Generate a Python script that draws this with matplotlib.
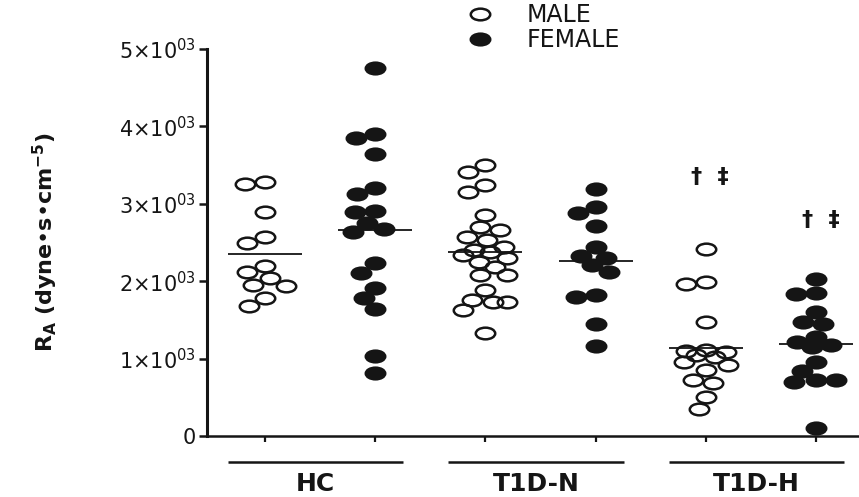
import numpy as np
import matplotlib
matplotlib.use('Agg')
import matplotlib.pyplot as plt
import matplotlib.transforms as mtransforms
from matplotlib.path import Path
from matplotlib.ticker import FuncFormatter, FixedLocator

# R_A values, dyne*s*cm^-5
hc_male = [3256, 3286, 2898, 2490, 2567, 2196, 2037, 2123, 1938, 1951, 1787, 1684]
hc_female = [4751, 3846, 3898, 3640, 3123, 3200, 2890, 2907, 2670, 2640, 2756,
             2231, 2110, 1916, 1779, 1641, 1038, 818]
t1dn_male = [3415, 3501, 3243, 3148, 2855, 2696, 2661, 2567, 2532, 2446, 2403,
             2381, 2296, 2339, 2252, 2187, 2080, 2080, 1886, 1757, 1735, 1735,
             1628, 1327]
t1dn_female = [3191, 2886, 2963, 2713, 2437, 2326, 2296, 2209, 2115, 1800, 1822,
               1443, 1163]
t1dh_male = [2416, 1964, 1986, 1469, 1111, 1090, 1047, 1102, 1020, 917, 960, 853,
             724, 689, 500, 345]
t1dh_female = [2028, 1831, 1843, 1606, 1443, 1477, 1218, 1176, 1283, 1150, 960,
               840, 724, 724, 700, 107]

groups = ['HC', 'T1D-N', 'T1D-H']
columns = [hc_male, hc_female, t1dn_male, t1dn_female, t1dh_male, t1dh_female]
sexes = ['MALE', 'FEMALE']
y_ticks = [0, 1000, 2000, 3000, 4000, 5000]

plt.rcParams['font.family'] = ['DejaVu Sans']
plt.rcParams['mathtext.fontset'] = 'dejavusans'

W, H, DPI = 859, 497, 100
INK = '#151515'

fig = plt.figure(figsize=(W / DPI, H / DPI), dpi=DPI)
ax = fig.add_axes([207 / W, (H - 436) / H, (W - 207) / W, (436 - 49) / H])
ax.set_xlim(0.474, 6.39)
ax.set_ylim(0, 5000)

# Squashed circle used for every point
oval = mtransforms.Affine2D().scale(1.0, 0.6).transform_path(Path.unit_circle())

# Marker footprint in pixels, for spreading points sideways
MW, MH = 22.0, 14.0


def spread(values, pos, max_dx=22, tol=0.9):
    '''Place points of one column side by side where they would collide.'''
    vals = np.asarray(values, dtype=float)
    cx = ax.transData.transform((pos, 0))[0]
    ys = ax.transData.transform(np.column_stack([np.full(len(vals), pos), vals]))[:, 1]
    cands = [0] + [s * d for d in range(1, max_dx + 1) for s in (-1, 1)]
    placed = []
    xs = np.zeros(len(vals))
    for i in np.argsort(-vals, kind='stable'):
        best, best_d = 0, -1.0
        for dx in cands:
            d = min((np.hypot((dx - px) / MW, (ys[i] - py) / MH) for px, py in placed),
                    default=np.inf)
            if d >= tol:
                best = dx
                break
            if d > best_d:
                best, best_d = dx, d
        placed.append((best, ys[i]))
        xs[i] = cx + best
    return ax.transData.inverted().transform(np.column_stack([xs, ys]))[:, 0]


handles = []
for k, vals in enumerate(columns):
    pos = k + 1
    female = k % 2 == 1
    xs = spread(vals, pos)
    h, = ax.plot(xs, vals, linestyle='none', marker=oval, markersize=14,
                 markeredgewidth=1.8, markeredgecolor=INK,
                 markerfacecolor=INK if female else 'none',
                 clip_on=False, zorder=3)
    if k < 2:
        handles.append(h)
    # mean line
    ax.hlines(np.mean(vals), pos - 0.336, pos + 0.336, color=INK, lw=1.3, zorder=2)

# Significance marks over the T1D-H columns
ax.text(5.04, 3350, '\u2020  \u2021', ha='center', va='center', fontsize=16,
        fontweight='bold', color=INK)
ax.text(6.04, 2790, '\u2020  \u2021', ha='center', va='center', fontsize=16,
        fontweight='bold', color=INK)

# Axes styling
for side in ['top', 'right']:
    ax.spines[side].set_visible(False)
ax.spines['left'].set_linewidth(2.2)
ax.spines['bottom'].set_linewidth(1.8)
for sp in ax.spines.values():
    sp.set_color(INK)

ax.xaxis.set_major_locator(FixedLocator(range(1, 7)))
ax.set_xticklabels([])
ax.tick_params(axis='x', direction='out', length=4.5, width=1.6, color=INK)

ax.yaxis.set_major_locator(FixedLocator(y_ticks))
ax.yaxis.set_major_formatter(FuncFormatter(
    lambda v, p: '0' if v == 0 else r'$\mathregular{%d{\times}10^{03}}$' % (v / 1000)))
ax.tick_params(axis='y', direction='out', length=6, width=1.8, pad=2,
               labelsize=15, color=INK, labelcolor=INK)

ax.set_ylabel(r'$\mathbf{R_A\ (dyne•s•cm^{-5})}$', fontsize=16, color=INK)
ax.yaxis.set_label_coords(-0.225, 0.5)

# Group labels with bars under the axis
under = mtransforms.blended_transform_factory(ax.transData, ax.transAxes)
for j, name in enumerate(groups):
    g = 2 * j + 1.5 - 0.04
    ax.plot([g - 0.795, g + 0.795], [-0.067, -0.067], transform=under,
            color=INK, lw=1.8, clip_on=False, solid_capstyle='butt')
    ax.text(g, -0.124, name, transform=under, ha='center', va='center',
            fontsize=18, fontweight='bold', color=INK)

fig.legend(handles, sexes, loc='upper left', bbox_to_anchor=(468 / W, 1 - 3 / H),
           frameon=False, fontsize=17, handlelength=1.0, handletextpad=1.5,
           borderpad=0, borderaxespad=0, labelspacing=0.05, labelcolor=INK)

fig.savefig('out.png', dpi=DPI)
plt.close(fig)
